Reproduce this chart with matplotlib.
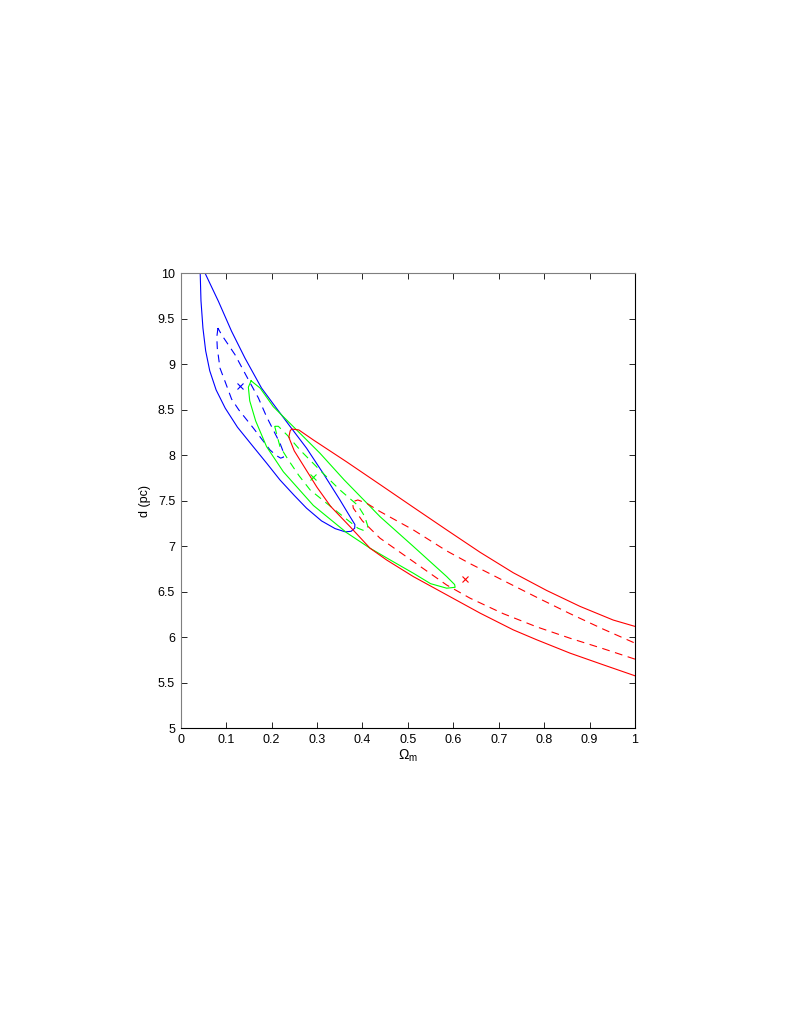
import matplotlib
matplotlib.use("Agg")
import matplotlib.pyplot as plt

# contour outlines (Omega_m, d)
blue_outer_x = [0.048, 0.043, 0.0447, 0.049, 0.055, 0.064, 0.078, 0.098, 0.125, 0.159, 0.19,
                0.2186, 0.25, 0.277, 0.31, 0.34, 0.362, 0.375, 0.383, 0.3835, 0.3727, 0.3506,
                0.314, 0.277, 0.2406, 0.2076, 0.178, 0.1415, 0.112, 0.083, 0.054, 0.048]
blue_outer_y = [10.12, 10.0, 9.70, 9.40, 9.15, 8.93, 8.72, 8.52, 8.31, 8.10, 7.91,
                7.73, 7.56, 7.42, 7.28, 7.195, 7.16, 7.165, 7.2, 7.24, 7.327, 7.51,
                7.80, 8.08, 8.32, 8.54, 8.74, 9.07, 9.365, 9.695, 10.0, 10.12]

blue_inner_x = [0.082, 0.0795, 0.0806, 0.0865, 0.0975, 0.112, 0.128, 0.16, 0.1966, 0.21, 0.22,
                0.226, 0.225, 0.2186, 0.189, 0.171, 0.145, 0.1195, 0.090, 0.082]
blue_inner_y = [9.40, 9.30, 9.18, 8.96, 8.815, 8.62, 8.50, 8.30, 8.06, 8.0, 7.97,
                7.98, 8.05, 8.134, 8.426, 8.632, 8.87, 9.108, 9.327, 9.40]

green_outer_x = [0.155, 0.175, 0.2038, 0.248, 0.3066, 0.36, 0.4167, 0.4387, 0.512, 0.5855, 0.603,
                 0.604, 0.5855, 0.55, 0.512, 0.4607, 0.4167, 0.3654, 0.292, 0.226, 0.189, 0.165,
                 0.152, 0.149, 0.155]
green_outer_y = [8.82, 8.74, 8.536, 8.316, 8.024, 7.73, 7.44, 7.327, 7.0, 6.668, 6.58,
                 6.55, 6.54, 6.59, 6.705, 6.852, 6.98, 7.15, 7.45, 7.82, 8.097, 8.38,
                 8.60, 8.75, 8.82]

green_inner_x = [0.207, 0.213, 0.2186, 0.237, 0.26, 0.285, 0.321, 0.358, 0.39, 0.405, 0.412,
                 0.405, 0.39, 0.3506, 0.31, 0.2626, 0.235, 0.215, 0.207]
green_inner_y = [8.32, 8.2, 8.097, 7.95, 7.78, 7.62, 7.475, 7.327, 7.2, 7.17, 7.22,
                 7.33, 7.45, 7.62, 7.82, 8.06, 8.22, 8.32, 8.32]

red_outer_x = [1.0, 0.93, 0.857, 0.7836, 0.732, 0.659, 0.5855, 0.512, 0.4534, 0.4167, 0.3727,
               0.33, 0.30, 0.275, 0.25, 0.238, 0.241, 0.2443, 0.26, 0.292, 0.365, 0.4387,
               0.512, 0.5855, 0.659, 0.732, 0.8056, 0.879, 0.952, 1.0]
red_outer_y = [5.577, 5.698, 5.826, 5.973, 6.082, 6.266, 6.467, 6.668, 6.85, 6.98, 7.217,
               7.44, 7.65, 7.85, 8.05, 8.2, 8.27, 8.29, 8.28, 8.17, 7.93, 7.68,
               7.43, 7.181, 6.935, 6.71, 6.515, 6.34, 6.19, 6.12]

red_inner_x = [1.0, 0.93, 0.857, 0.7836, 0.71, 0.637, 0.5855, 0.512, 0.4387, 0.40, 0.38,
               0.378, 0.39, 0.409, 0.4387, 0.512, 0.5855, 0.637, 0.71, 0.7836, 0.857, 0.93, 1.0]
red_inner_y = [5.76, 5.875, 5.99, 6.115, 6.26, 6.43, 6.575, 6.833, 7.09, 7.28, 7.42,
               7.49, 7.51, 7.475, 7.383, 7.181, 6.95, 6.81, 6.625, 6.44, 6.26, 6.09, 5.936]

best_x = [0.1305, 0.2905, 0.625]
best_y = [8.767, 7.767, 6.643]
best_colors = ['#0000ff', '#00ff00', '#ff0000']

x_ticks = [0, 0.1, 0.2, 0.3, 0.4, 0.5, 0.6, 0.7, 0.8, 0.9, 1]
x_labels = ['0', '0.1', '0.2', '0.3', '0.4', '0.5', '0.6', '0.7', '0.8', '0.9', '1']
y_ticks = [5, 5.5, 6, 6.5, 7, 7.5, 8, 8.5, 9, 9.5, 10]
y_labels = ['5', '5.5', '6', '6.5', '7', '7.5', '8', '8.5', '9', '9.5', '10']

plt.rcParams['font.family'] = ['Liberation Sans', 'DejaVu Sans']
plt.rcParams['mathtext.fontset'] = 'custom'
plt.rcParams['mathtext.rm'] = 'Liberation Sans'
plt.rcParams['mathtext.it'] = 'Liberation Sans:italic'

fig = plt.figure(figsize=(7.9, 10.22), dpi=100)
ax = fig.add_axes([0.2287, 0.2874, 0.5751, 0.4450])

lw = 0.8
dash = (0, (7, 5))
ax.plot(blue_outer_x, blue_outer_y, color='#0000ff', lw=lw)
ax.plot(blue_inner_x, blue_inner_y, color='#0000ff', lw=lw, linestyle=dash)
ax.plot(green_outer_x, green_outer_y, color='#00ff00', lw=lw)
ax.plot(green_inner_x, green_inner_y, color='#00ff00', lw=lw, linestyle=dash)
ax.plot(red_outer_x, red_outer_y, color='#ff0000', lw=lw)
ax.plot(red_inner_x, red_inner_y, color='#ff0000', lw=lw, linestyle=dash)
for bx, by, c in zip(best_x, best_y, best_colors):
    ax.plot(bx, by, marker='x', color=c, markersize=5, mew=0.8)

ax.set_xlim(0, 1)
ax.set_ylim(5, 10)
ax.set_xticks(x_ticks)
ax.set_xticklabels(x_labels)
ax.set_yticks(y_ticks)
ax.set_yticklabels(y_labels)
ax.tick_params(direction='in', top=True, right=True, length=4, width=0.6,
               labelsize=9, pad=4)
for s in ax.spines.values():
    s.set_linewidth(0.8)
ax.spines['left'].set_color('#7f7f7f')
ax.spines['top'].set_color('#7f7f7f')

ax.set_xlabel(r'$\Omega_{\mathrm{m}}$', fontsize=10, labelpad=1)
ax.set_ylabel('d (pc)', fontsize=9, labelpad=5)

fig.savefig('out.png', dpi=100)
